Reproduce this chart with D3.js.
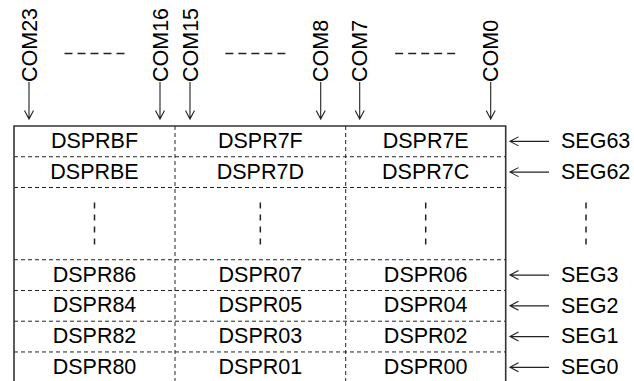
<!DOCTYPE html>
<html>
<head>
<meta charset="utf-8">
<script src="https://cdn.jsdelivr.net/npm/d3@7"></script>
<style>
  html, body { margin: 0; padding: 0; background: #fff; }
  svg { display: block; }
  text { font-family: "Liberation Sans", Arial, sans-serif; fill: #000; }
</style>
</head>
<body>
<svg id="chart" width="634" height="381"></svg>
<script>
// ---- data ----
const col0Labels = ["DSPRBF", "DSPRBE", null, "DSPR86", "DSPR84", "DSPR82", "DSPR80"];
const col1Labels = ["DSPR7F", "DSPR7D", null, "DSPR07", "DSPR05", "DSPR03", "DSPR01"];
const col2Labels = ["DSPR7E", "DSPR7C", null, "DSPR06", "DSPR04", "DSPR02", "DSPR00"];
const segLabels  = ["SEG63", "SEG62", null, "SEG3", "SEG2", "SEG1", "SEG0"];
const comLabels  = ["COM23", "COM16", "COM15", "COM8", "COM7", "COM0"];
const rowUnits   = [1, 1, 2.35, 1, 1, 1, 1];   // relative row heights (row 3 = ellipsis)

const columns = [col0Labels, col1Labels, col2Labels];

// ---- layout ----
const svg = d3.select("#chart");
const FS = 21.5;
const stroke = "#222";

const rowEdges = [0];
rowUnits.forEach(u => rowEdges.push(rowEdges[rowEdges.length - 1] + u));
const y = d3.scaleLinear().domain([0, rowEdges[rowEdges.length - 1]]).range([126, 382.7]);
const x = d3.scaleLinear().domain([0, 1, 2, 3]).range([14, 175, 345.7, 505.7]);

// COM arrow positions: [column, side(0=left,1=right), offset]
const comPlace = [[0, 0, 15], [0, 1, -15], [1, 0, 15], [1, 1, -25], [2, 0, 14], [2, 1, -15]];
const comX = comPlace.map(([c, s, o]) => x(c + s) + o);

// dashed horizontal row separators
svg.append("g").selectAll("line")
  .data(rowEdges.slice(1, -1))
  .join("line")
  .attr("x1", x(0)).attr("x2", x(3))
  .attr("y1", d => y(d)).attr("y2", d => y(d))
  .attr("stroke", stroke).attr("stroke-width", 1)
  .attr("stroke-dasharray", "4,3");

// dashed column dividers
svg.append("g").selectAll("line")
  .data([1, 2])
  .join("line")
  .attr("x1", d => x(d)).attr("x2", d => x(d))
  .attr("y1", y(0)).attr("y2", y(rowEdges[rowEdges.length - 1]))
  .attr("stroke", stroke).attr("stroke-width", 1)
  .attr("stroke-dasharray", "4,3");

// solid outer border
svg.append("path")
  .attr("d", `M${x(0)},${y(rowEdges[rowEdges.length-1])}V${y(0)}H${x(3)}V${y(rowEdges[rowEdges.length-1])}`)
  .attr("fill", "none").attr("stroke", "#333").attr("stroke-width", 1.6);

// cell labels
columns.forEach((labels, ci) => {
  svg.append("g").selectAll("text")
    .data(labels.map((t, ri) => ({ t, ri })).filter(d => d.t))
    .join("text")
    .attr("x", (x(ci) + x(ci + 1)) / 2)
    .attr("y", d => (y(rowEdges[d.ri]) + y(rowEdges[d.ri + 1])) / 2 + 6.5)
    .attr("text-anchor", "middle")
    .attr("font-size", FS)
    .text(d => d.t);
});

// vertical ellipses in ellipsis row
const ellRow = segLabels.indexOf(null);
const ellXs = [0, 1, 2].map(ci => (x(ci) + x(ci + 1)) / 2).concat([586]);
svg.append("g").selectAll("line")
  .data(ellXs)
  .join("line")
  .attr("x1", d => d).attr("x2", d => d)
  .attr("y1", y(rowEdges[ellRow]) + 15).attr("y2", y(rowEdges[ellRow]) + 57)
  .attr("stroke", stroke).attr("stroke-width", 1.5)
  .attr("stroke-dasharray", "6,6");

// SEG arrows and labels
const segG = svg.append("g").selectAll("g")
  .data(segLabels.map((t, ri) => ({ t, ri })).filter(d => d.t))
  .join("g")
  .attr("transform", d => `translate(0,${(y(rowEdges[d.ri]) + y(rowEdges[d.ri + 1])) / 2})`);
segG.append("path")
  .attr("d", "M510,0H549M518.5,-4.5L510,0L518.5,4.5")
  .attr("fill", "none").attr("stroke", stroke).attr("stroke-width", 1.1);
segG.append("text")
  .attr("x", 561).attr("y", 6.8)
  .attr("font-size", FS)
  .text(d => d.t);

// COM arrows and labels
const comG = svg.append("g").selectAll("g")
  .data(comLabels.map((t, i) => ({ t, x: comX[i] })))
  .join("g")
  .attr("transform", d => `translate(${d.x},0)`);
comG.append("path")
  .attr("d", "M0,82V119M-4.5,110.5L0,119L4.5,110.5")
  .attr("fill", "none").attr("stroke", stroke).attr("stroke-width", 1.1);
comG.append("text")
  .attr("transform", "translate(7.5,82) rotate(-90)")
  .attr("font-size", FS)
  .text(d => d.t);

// horizontal "- - - - -" between COM pairs
svg.append("g").selectAll("line")
  .data([[0, 1], [2, 3], [4, 5]])
  .join("line")
  .attr("x1", d => (comX[d[0]] + comX[d[1]]) / 2 - 30)
  .attr("x2", d => (comX[d[0]] + comX[d[1]]) / 2 + 30)
  .attr("y1", 53.5).attr("y2", 53.5)
  .attr("stroke", stroke).attr("stroke-width", 1.4)
  .attr("stroke-dasharray", "8,5");
</script>
</body>
</html>
